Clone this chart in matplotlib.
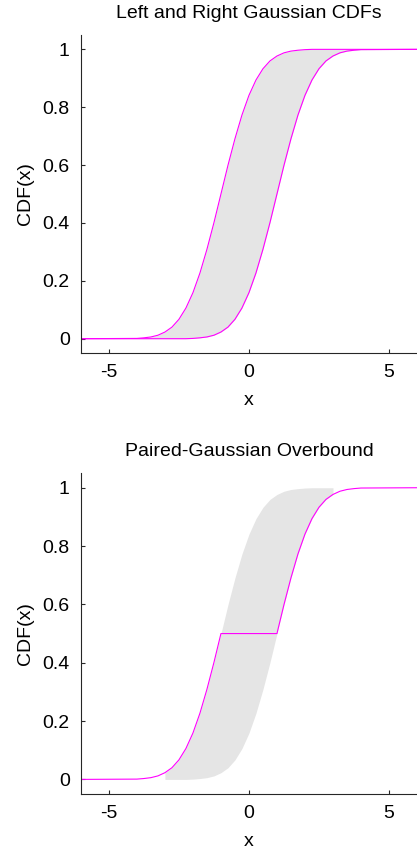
import numpy as np
import matplotlib.pyplot as plt

plt.rcParams['font.family'] = ['Liberation Sans', 'DejaVu Sans']

# common x grid
x = [-6.0, -4.0, -3.75, -3.5, -3.25, -3.0, -2.75, -2.5, -2.25, -2.0, -1.75, -1.5,
     -1.25, -1.0, -0.75, -0.5, -0.25, 0.0, 0.25, 0.5, 0.75, 1.0, 1.25, 1.5, 1.75,
     2.0, 2.25, 2.5, 2.75, 3.0, 3.25, 3.5, 3.75, 4.0, 6.0]

# left Gaussian CDF (centred at -1)
cdf_left = [0.0, 0.001, 0.003, 0.006, 0.012, 0.023, 0.040, 0.067, 0.106, 0.159,
            0.227, 0.309, 0.401, 0.500, 0.599, 0.691, 0.773, 0.841, 0.894, 0.933,
            0.960, 0.977, 0.988, 0.994, 0.997, 0.999, 1.0, 1.0, 1.0, 1.0, 1.0,
            1.0, 1.0, 1.0, 1.0]

# right Gaussian CDF (centred at +1)
cdf_right = [0.0, 0.0, 0.0, 0.0, 0.0, 0.0, 0.0, 0.0, 0.0, 0.001, 0.003, 0.006,
             0.012, 0.023, 0.040, 0.067, 0.106, 0.159, 0.227, 0.309, 0.401, 0.500,
             0.599, 0.691, 0.773, 0.841, 0.894, 0.933, 0.960, 0.977, 0.988, 0.994,
             0.997, 0.999, 1.0]

# paired overbound: left cdf, flat 0.5 in the middle, right cdf
overbound = [0.0, 0.001, 0.003, 0.006, 0.012, 0.023, 0.040, 0.067, 0.106, 0.159,
             0.227, 0.309, 0.401, 0.500, 0.500, 0.500, 0.500, 0.500, 0.500, 0.500,
             0.500, 0.500, 0.599, 0.691, 0.773, 0.841, 0.894, 0.933, 0.960, 0.977,
             0.988, 0.994, 0.997, 0.999, 1.0]

yticks = [0, 0.2, 0.4, 0.6, 0.8, 1]
ytick_labels = ['0', '0.2', '0.4', '0.6', '0.8', '1']
xticks = [-5, 0, 5]

fill_col = '#e5e5e5'
line_col = '#ff00ff'

x = np.array(x)
lo = np.minimum(cdf_left, cdf_right)
hi = np.maximum(cdf_left, cdf_right)


def style(ax, title):
    ax.set_xlim(-6, 6)
    ax.set_ylim(-0.05, 1.05)
    ax.set_xticks(xticks)
    ax.set_xticklabels([str(t) for t in xticks])
    ax.set_yticks(yticks)
    ax.set_yticklabels(ytick_labels)
    ax.tick_params(direction='in', length=3, width=0.8, labelsize=14,
                   color='#262626', pad=8)
    for s in ['top', 'right']:
        ax.spines[s].set_visible(False)
    for s in ['left', 'bottom']:
        ax.spines[s].set_color('#262626')
        ax.spines[s].set_linewidth(0.8)
    ax.set_xlabel('x', fontsize=14, labelpad=8)
    ax.set_ylabel('CDF(x)', fontsize=14, labelpad=6)
    ax.set_title(title, fontsize=14, pad=12)


fig = plt.figure(figsize=(4.17, 8.51), dpi=100)

ax1 = fig.add_axes([0.194, 0.585, 0.806, 0.374])
ax1.fill_between(x, lo, hi, color=fill_col, lw=0)
ax1.plot(x, cdf_left, color=line_col, lw=0.8)
ax1.plot(x, cdf_right, color=line_col, lw=0.8)
style(ax1, 'Left and Right Gaussian CDFs')

ax2 = fig.add_axes([0.194, 0.067, 0.806, 0.377])
inside = (x >= -3) & (x <= 3)
ax2.fill_between(x, lo, hi, where=inside, color=fill_col, lw=0)
ax2.plot(x, overbound, color=line_col, lw=0.8)
style(ax2, 'Paired-Gaussian Overbound')

plt.savefig('out.png', dpi=100)
